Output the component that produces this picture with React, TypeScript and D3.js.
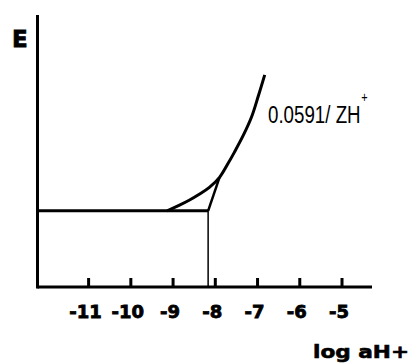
import * as d3 from 'd3';
import { useEffect, useRef } from 'react';

// log aH+ tick values
const xTicks = [-11, -10, -9, -8, -7, -6, -5];
const xDomain = [-12.21, -4.29];
const eDomain = [0, 10];

// plateau level and the break point where the straight branch starts
const plateauE = 2.8;
const kneeX = -8.17;

// measured response curve
const curveX = [-9.14, -8.86, -8.62, -8.38, -8.14, -7.9, -7.71, -7.55, -7.33, -7.14, -6.98, -6.83];
const curveE = [2.8, 3.0, 3.19, 3.41, 3.66, 4.03, 4.51, 4.95, 5.6, 6.26, 7.03, 7.8];

// ideal straight branch (slope 0.0591/Z)
const slopeX = [kneeX, -7.9];
const slopeE = [plateauE, 4.03];

export default function App() {
  const ref = useRef<SVGSVGElement | null>(null);

  useEffect(() => {
    const svg = d3.select(ref.current);
    svg.selectAll('*').remove();
    const width = 414;
    const height = 363;
    svg.append('rect').attr('width', width).attr('height', height).attr('fill', '#fff');

    const x = d3.scaleLinear().domain(xDomain).range([37.5, 372]);
    const y = d3.scaleLinear().domain(eDomain).range([287, 15]);

    // axes
    svg.append('line')
      .attr('x1', x(xDomain[0])).attr('x2', x(xDomain[0]))
      .attr('y1', y(0) + 1.5).attr('y2', y(eDomain[1]))
      .attr('stroke', '#000').attr('stroke-width', 3);
    svg.append('line')
      .attr('x1', x(xDomain[0])).attr('x2', x(xDomain[1]))
      .attr('y1', y(0)).attr('y2', y(0))
      .attr('stroke', '#000').attr('stroke-width', 3);

    svg.selectAll('line.tick')
      .data(xTicks)
      .enter()
      .append('line')
      .attr('class', 'tick')
      .attr('x1', (d) => x(d)).attr('x2', (d) => x(d))
      .attr('y1', y(0)).attr('y2', y(0) - 9)
      .attr('stroke', '#000').attr('stroke-width', 3);

    svg.selectAll('text.tlabel')
      .data(xTicks)
      .enter()
      .append('text')
      .attr('class', 'tlabel')
      .attr('x', (d) => x(d) - 3)
      .attr('y', 318)
      .attr('text-anchor', 'middle')
      .attr('font-family', 'DejaVu Sans')
      .attr('font-weight', 'bold')
      .attr('font-size', 18)
      .attr('fill', '#000')
      .attr('stroke', '#000')
      .attr('stroke-width', 0.8)
      .text((d) => String(d));

    svg.append('text')
      .attr('x', 12).attr('y', 47)
      .attr('font-family', 'DejaVu Sans').attr('font-weight', 'bold').attr('font-size', 23)
      .attr('stroke', '#000').attr('stroke-width', 0.8)
      .text('E');

    svg.append('text')
      .attr('x', 313).attr('y', 358)
      .attr('font-family', 'DejaVu Sans').attr('font-weight', 'bold').attr('font-size', 18)
      .attr('stroke', '#000').attr('stroke-width', 0.6)
      .attr('textLength', 96).attr('lengthAdjust', 'spacingAndGlyphs')
      .text('log aH+');

    // plateau and knee drop
    svg.append('line')
      .attr('x1', x(xDomain[0])).attr('x2', x(kneeX))
      .attr('y1', y(plateauE)).attr('y2', y(plateauE))
      .attr('stroke', '#000').attr('stroke-width', 3);
    svg.append('line')
      .attr('x1', x(kneeX)).attr('x2', x(kneeX))
      .attr('y1', y(plateauE)).attr('y2', y(0))
      .attr('stroke', '#000').attr('stroke-width', 1.5);

    const line = d3.line<number>()
      .x((i) => x(curveX[i]))
      .y((i) => y(curveE[i]))
      .curve(d3.curveCatmullRom);
    svg.append('path')
      .attr('d', line(d3.range(curveX.length)))
      .attr('fill', 'none').attr('stroke', '#000').attr('stroke-width', 3);

    const sline = d3.line<number>()
      .x((i) => x(slopeX[i]))
      .y((i) => y(slopeE[i]));
    svg.append('path')
      .attr('d', sline(d3.range(slopeX.length)))
      .attr('fill', 'none').attr('stroke', '#000').attr('stroke-width', 2.5);

    // slope annotation (condensed, with superscript +)
    const note = svg.append('text')
      .attr('transform', 'translate(268,123) scale(0.78,1)')
      .attr('font-family', 'Liberation Sans').attr('font-size', 24)
      .attr('fill', '#000');
    note.append('tspan').text('0.0591/ ZH');
    note.append('tspan').attr('dx', 1).attr('dy', -21).attr('font-size', 14).text('+');
  }, []);

  return (
    <svg
      ref={ref}
      width={414}
      height={363}
      style={{ position: 'absolute', left: 0, top: 0 }}
      role="img"
      aria-label="E versus log aH+"
    />
  );
}
